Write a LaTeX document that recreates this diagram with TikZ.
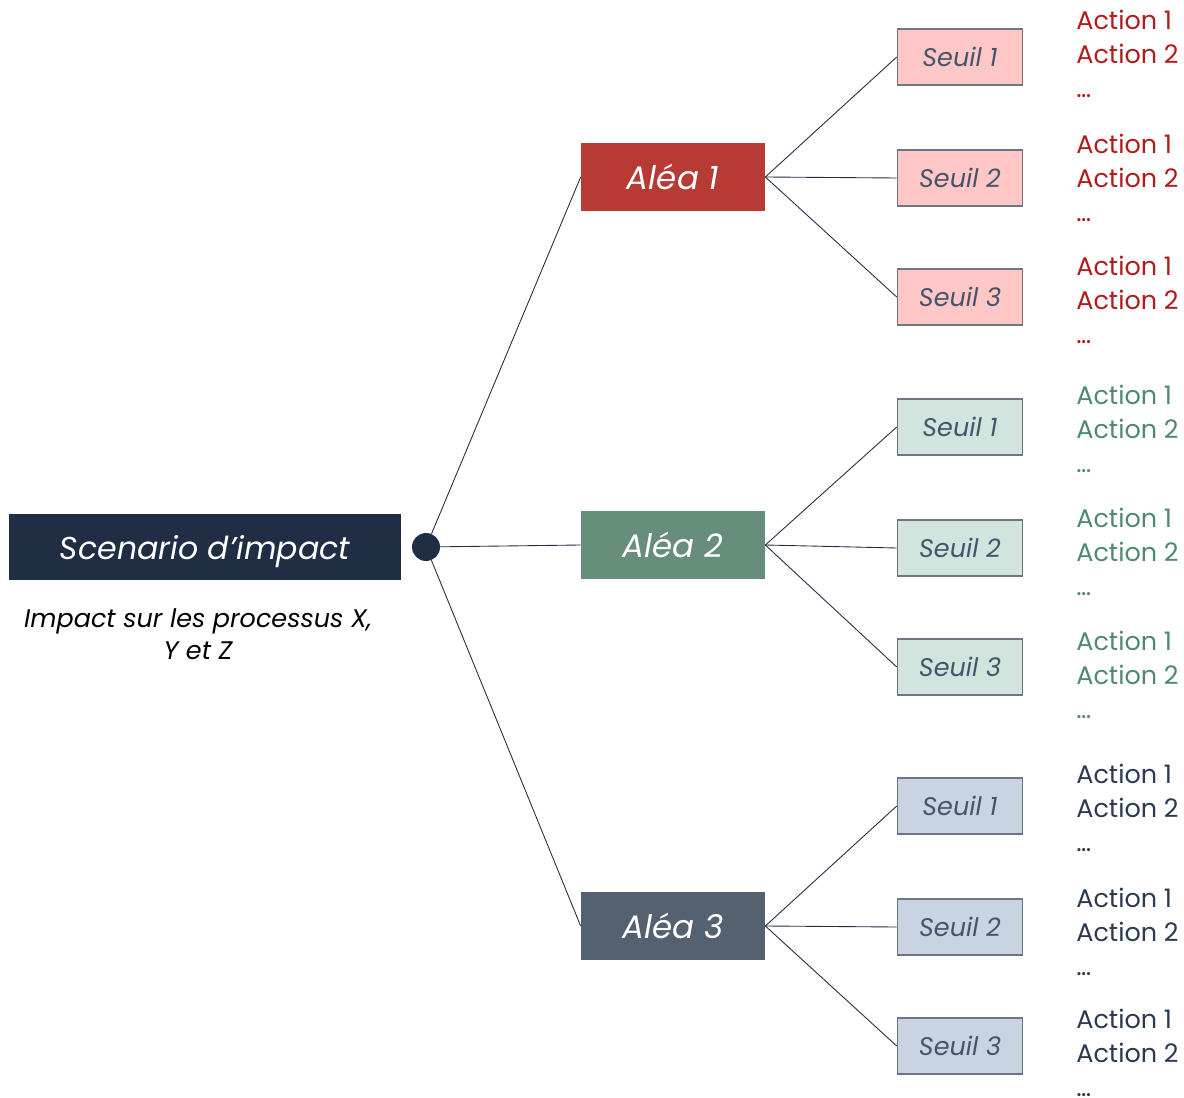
\documentclass[tikz,border=0pt]{standalone}
\usepackage{fontspec}
\setmainfont{Poppins}
\usetikzlibrary{positioning}
\definecolor{navy}{HTML}{1F2D45}
\definecolor{aleared}{HTML}{B73B34}
\definecolor{aleagreen}{HTML}{678D7B}
\definecolor{aleaslate}{HTML}{546170}
\definecolor{seuilfill1}{HTML}{FFC7C6}
\definecolor{seuilfill2}{HTML}{D2E4DE}
\definecolor{seuilfill3}{HTML}{C9D4E2}
\definecolor{seuilline}{HTML}{707482}
\definecolor{seuiltext}{HTML}{44546A}
\definecolor{actcol1}{HTML}{B31B1B}
\definecolor{actcol2}{HTML}{4F8A70}
\definecolor{actcol3}{HTML}{2B3A4F}

\begin{document}
\begin{tikzpicture}[x=0.02cm,y=-0.02cm,
    alea/.style={minimum width=3.68cm,minimum height=1.36cm,inner sep=0pt,
      text=white,font=\fontsize{18.5}{22}\selectfont\itshape},
    seuil/.style={draw=seuilline,line width=0.9pt,minimum width=2.5cm,
      minimum height=1.12cm,inner sep=0pt,text=seuiltext,
      font=\fontsize{14.5}{18}\selectfont\itshape},
    action/.style={anchor=north west,inner sep=0pt,align=left,
      font=\fontsize{14.5}{19.3}\selectfont},
    link/.style={draw=navy,line width=0.5pt}]
  \useasboundingbox (0,0) rectangle (1184,1098);

  % scenario and hub
  \node[fill=navy,minimum width=7.86cm,minimum height=1.34cm,inner sep=0pt,text depth=0pt,
    text=white,font=\fontsize{18}{22}\selectfont\itshape] (scen) at (205,547) {Scenario d’impact};
  \node[align=center,font=\fontsize{14.5}{18}\selectfont\itshape] (caption) at (198,634)
    {Impact sur les processus X,\\Y et Z};
  \node[circle,fill=navy,minimum size=0.56cm,inner sep=0pt] (hub) at (426,547) {};

  % aleas
  \node[alea,fill=aleared] (a1) at (673,177) {Aléa 1};
  \node[alea,fill=aleagreen] (a2) at (673,545) {Aléa 2};
  \node[alea,fill=aleaslate] (a3) at (673,926) {Aléa 3};
  \foreach \a in {1,2,3}
    \draw[link] (hub) -- (a\a.west);

  % seuils and actions
  \foreach \a/\s/\y/\t in {1/1/57/10, 1/2/178/134, 1/3/297/256,
      2/1/427/385, 2/2/548/508, 2/3/667/631,
      3/1/806/764, 3/2/927/888, 3/3/1046/1009} {
    \node[seuil,fill=seuilfill\a] (s\a\s) at (960,\y) {Seuil \s};
    \draw[link] (a\a.east) -- (s\a\s.west);
    \node[action,text=actcol\a] (act\a\s) at (1076,\t) {Action 1\\Action 2\\…};
  }
\end{tikzpicture}
\end{document}
